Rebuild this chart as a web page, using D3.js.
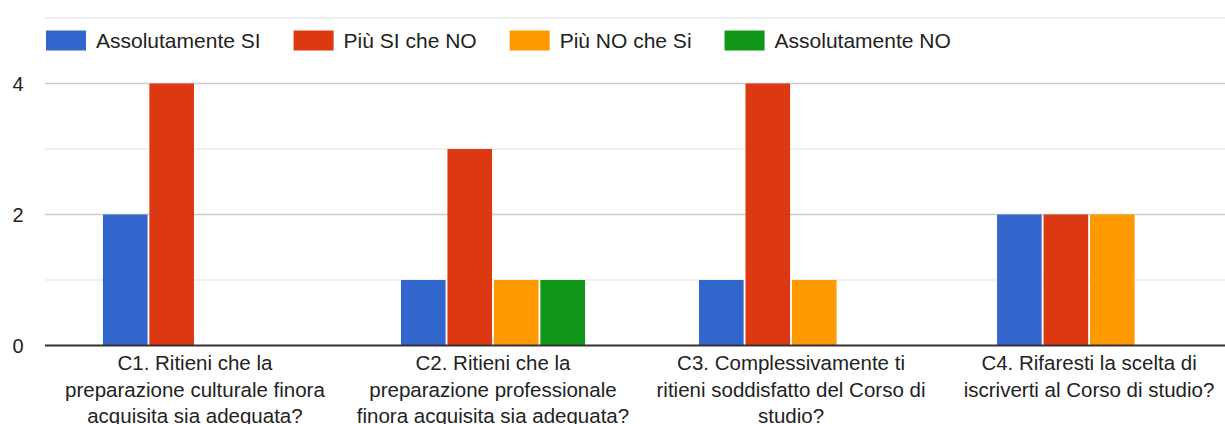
<!DOCTYPE html>
<html>
<head>
<meta charset="utf-8">
<script src="https://cdn.jsdelivr.net/npm/d3@7"></script>
<style>
  body { margin: 0; background: #fff; }
  svg { display: block; font-family: "Liberation Sans", Arial, sans-serif; }
</style>
</head>
<body>
<svg id="chart" width="1225" height="424"></svg>
<script>
"use strict";

// categories, one array of label lines per question
var categories = ['C1', 'C2', 'C3', 'C4'];
var categoryLines = [
  ['C1. Ritieni che la', 'preparazione culturale finora', 'acquisita sia adeguata?'],
  ['C2. Ritieni che la', 'preparazione professionale', 'finora acquisita sia adeguata?'],
  ['C3. Complessivamente ti', 'ritieni soddisfatto del Corso di', 'studio?'],
  ['C4. Rifaresti la scelta di', 'iscriverti al Corso di studio?']
];

var seriesNames = ['Assolutamente SI', 'Più SI che NO', 'Più NO che Si', 'Assolutamente NO'];
var seriesColors = ['#3366cc', '#dc3912', '#ff9900', '#109618'];

// values per series, in category order
var assolutamenteSi = [2, 1, 1, 2];
var piuSiCheNo = [4, 3, 4, 2];
var piuNoCheSi = [0, 1, 1, 2];
var assolutamenteNo = [0, 1, 0, 0];
var seriesValues = [assolutamenteSi, piuSiCheNo, piuNoCheSi, assolutamenteNo];

var yTicks = [0, 2, 4];
var yGrid = [1, 2, 3, 4, 5];

var svg = d3.select('#chart');

var x0 = d3.scaleBand()
  .domain(categories)
  .range([46, 1238])
  .paddingInner(0.3826)
  .paddingOuter(0.191);

var x1 = d3.scaleBand()
  .domain(d3.range(seriesNames.length))
  .range([0, x0.bandwidth()])
  .paddingInner(0.04);

var y = d3.scaleLinear()
  .domain([0, 5])
  .range([345.5, 18]);

// gridlines (lighter ones on odd values)
svg.append('g')
  .selectAll('line')
  .data(yGrid)
  .enter()
  .append('line')
  .attr('x1', 45)
  .attr('x2', 1225)
  .attr('y1', d => y(d))
  .attr('y2', d => y(d))
  .attr('stroke', d => d % 2 == 0 ? '#cccccc' : '#ebebeb')
  .attr('stroke-width', 1.3);

// bars
var rows = [];
categories.forEach((c, ci) => {
  seriesValues.forEach((vals, si) => {
    if (vals[ci] > 0) rows.push({ cat: c, s: si, v: vals[ci] });
  });
});

svg.append('g')
  .selectAll('rect')
  .data(rows)
  .enter()
  .append('rect')
  .attr('x', d => x0(d.cat) + x1(d.s))
  .attr('width', x1.bandwidth())
  .attr('y', d => y(d.v))
  .attr('height', d => y(0) - y(d.v))
  .attr('fill', d => seriesColors[d.s]);

// baseline
svg.append('line')
  .attr('x1', 45)
  .attr('x2', 1225)
  .attr('y1', y(0))
  .attr('y2', y(0))
  .attr('stroke', '#333333')
  .attr('stroke-width', 2);

// y tick labels
svg.append('g')
  .selectAll('text')
  .data(yTicks)
  .enter()
  .append('text')
  .attr('x', 23.5)
  .attr('y', d => y(d))
  .attr('dy', '0.36em')
  .attr('text-anchor', 'end')
  .attr('fill', '#222')
  .style('font-size', '20px')
  .text(d => d);

// category labels (the last line is cut by the bottom edge, as in the original)
var cat = svg.append('g')
  .selectAll('text')
  .data(categories)
  .enter()
  .append('text')
  .attr('text-anchor', 'middle')
  .attr('fill', '#222')
  .style('font-size', '20.5px');

cat.each(function(c, i) {
  var cx = x0(c) + x0.bandwidth() / 2;
  d3.select(this)
    .selectAll('tspan')
    .data(categoryLines[i])
    .enter()
    .append('tspan')
    .attr('x', cx)
    .attr('y', (d, j) => 370 + j * 26.5)
    .text(d => d);
});

// legend
var legend = svg.append('g');
var lx = 46;
seriesNames.forEach((name, i) => {
  legend.append('rect')
    .attr('x', lx)
    .attr('y', 30.5)
    .attr('width', 40)
    .attr('height', 20)
    .attr('fill', seriesColors[i]);
  var t = legend.append('text')
    .attr('x', lx + 50)
    .attr('y', 40.5)
    .attr('dy', '0.36em')
    .attr('fill', '#222')
    .style('font-size', '21px')
    .text(name);
  lx += 50 + t.node().getComputedTextLength() + 33;
});
</script>
</body>
</html>
